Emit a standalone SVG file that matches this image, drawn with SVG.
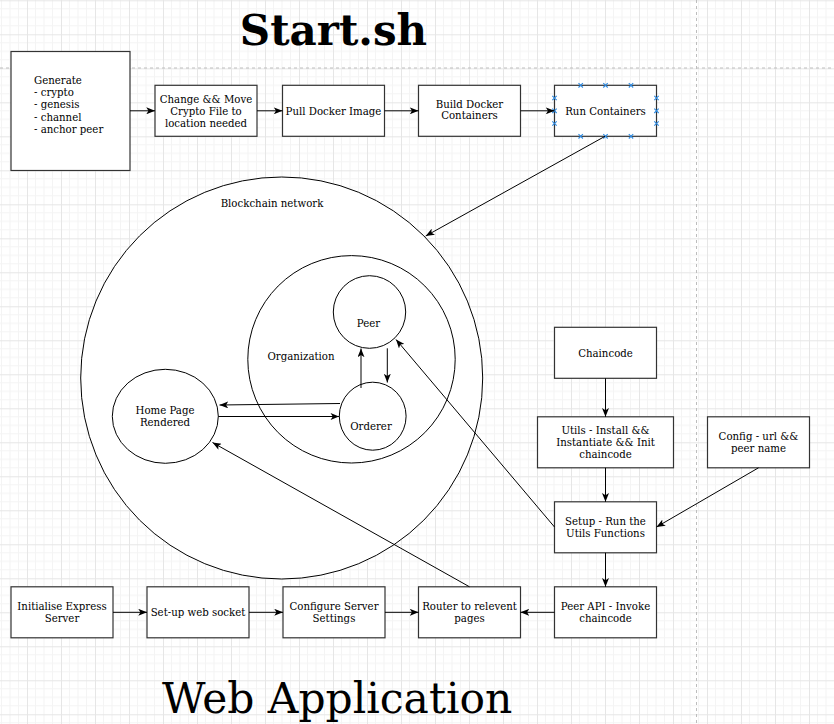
<svg xmlns="http://www.w3.org/2000/svg" xmlns:xlink="http://www.w3.org/1999/xlink" width="834" height="724" viewBox="0 0 834 724">
<style>
.box{fill:#fff;stroke:#333;stroke-width:1.2}
.circ{fill:#fff;stroke:#000;stroke-width:1}
.t{font-family:"DejaVu Serif","Liberation Serif",serif;font-size:10.2px;fill:#000;text-anchor:middle}
.tl{font-family:"DejaVu Serif","Liberation Serif",serif;font-size:10.2px;fill:#000}
.e{fill:none;stroke:#000;stroke-width:1;marker-end:url(#arr)}
.pt{fill:none;stroke:#2f8ae0;stroke-width:1.1}
.dash{stroke:#bdbdbd;stroke-width:1;stroke-dasharray:3 3}
.title{font-family:"DejaVu Serif","Liberation Serif",serif;fill:#000;text-anchor:middle}
</style>
<defs>
<pattern id="grid" patternUnits="userSpaceOnUse" x="27" y="0.3" width="34" height="34">
<rect width="34" height="34" fill="#fff"/>
<path d="M8.5,0V34M17,0V34M25.5,0V34M0,8.5H34M0,17H34M0,25.5H34" stroke="#f4f4f4" stroke-width="1"/>
<path d="M0.5,0V34M0,0.5H34" stroke="#e6e6e6" stroke-width="1"/>
</pattern>
<marker id="arr" viewBox="0 0 10 8" refX="10" refY="4" markerWidth="9" markerHeight="7" orient="auto" markerUnits="userSpaceOnUse">
<path d="M0,0 L10,4 L0,8 L2.5,4 z" fill="#000"/>
</marker>
<path id="xm" d="M-2.2,-2.2L2.2,2.2M-2.2,2.2L2.2,-2.2"/>
</defs>
<rect width="834" height="724" fill="url(#grid)"/>
<line class="dash" x1="0" y1="68" x2="834" y2="68"/>
<line class="dash" x1="696.5" y1="0" x2="696.5" y2="724"/>

<text class="title" x="333.5" y="44.5" font-weight="bold" font-size="42">Start.sh</text>
<text class="title" x="337.2" y="712.5" font-size="42.4">Web Application</text>

<g id="blockchain-network">
<circle class="circ" cx="281.7" cy="378" r="201"/>
<text class="t" x="272" y="207">Blockchain network</text>
</g>
<g id="organization">
<circle class="circ" cx="351.5" cy="359.3" r="103.7"/>
<text class="t" x="301" y="360">Organization</text>
</g>
<g id="peer">
<ellipse class="circ" cx="369.5" cy="312" rx="36.2" ry="36.3"/>
<text class="t" x="368.5" y="327">Peer</text>
</g>
<g id="orderer">
<ellipse class="circ" cx="372.7" cy="416.2" rx="33.4" ry="34"/>
<text class="t" x="371" y="430">Orderer</text>
</g>
<g id="home-page">
<ellipse class="circ" cx="165.3" cy="416.3" rx="53" ry="47"/>
<text class="t" x="165" y="413.5">Home Page</text>
<text class="t" x="165" y="426">Rendered</text>
</g>

<g id="generate">
<rect class="box" x="11" y="51.5" width="119" height="119"/>
<text class="tl" x="34" y="84">Generate</text>
<text class="tl" x="34" y="96.2">- crypto</text>
<text class="tl" x="34" y="108.4">- genesis</text>
<text class="tl" x="34" y="120.7">- channel</text>
<text class="tl" x="34" y="132.9">- anchor peer</text>
</g>
<g id="change-move">
<rect class="box" x="155" y="85.3" width="102" height="51"/>
<text class="t" x="206" y="103">Change &amp;&amp; Move</text>
<text class="t" x="206" y="115">Crypto File to</text>
<text class="t" x="206" y="127">location needed</text>
</g>
<g id="pull-docker">
<rect class="box" x="282.5" y="85.3" width="102" height="51"/>
<text class="t" x="333.5" y="114.5">Pull Docker Image</text>
</g>
<g id="build-docker">
<rect class="box" x="418.5" y="85.3" width="102" height="51"/>
<text class="t" x="469.5" y="107.5">Build Docker</text>
<text class="t" x="469.5" y="119">Containers</text>
</g>
<g id="run-containers">
<rect class="box" x="554.5" y="85.3" width="102" height="51"/>
<text class="t" x="605.5" y="114.5">Run Containers</text>
<g class="pt">
<use xlink:href="#xm" x="580.7" y="85.3"/><use xlink:href="#xm" x="605.5" y="85.3"/><use xlink:href="#xm" x="631" y="85.3"/>
<use xlink:href="#xm" x="580.7" y="136.3"/><use xlink:href="#xm" x="605.5" y="136.3"/><use xlink:href="#xm" x="631" y="136.3"/>
<use xlink:href="#xm" x="554.5" y="98"/><use xlink:href="#xm" x="554.5" y="110.8"/><use xlink:href="#xm" x="554.5" y="123.5"/>
<use xlink:href="#xm" x="656.5" y="98"/><use xlink:href="#xm" x="656.5" y="110.8"/><use xlink:href="#xm" x="656.5" y="123.5"/>
</g>
</g>
<g id="chaincode">
<rect class="box" x="554.5" y="327.3" width="102" height="51"/>
<text class="t" x="605.5" y="357">Chaincode</text>
</g>
<g id="utils">
<rect class="box" x="537.5" y="416.8" width="136" height="51"/>
<text class="t" x="605.5" y="433.5">Utils  - Install &amp;&amp;</text>
<text class="t" x="605.5" y="445.5">Instantiate &amp;&amp; Init</text>
<text class="t" x="605.5" y="457.5">chaincode</text>
</g>
<g id="config">
<rect class="box" x="707.5" y="416.8" width="102" height="51"/>
<text class="t" x="758.5" y="439.5">Config - url &amp;&amp;</text>
<text class="t" x="758.5" y="451.5">peer name</text>
</g>
<g id="setup">
<rect class="box" x="554.5" y="501.8" width="102" height="51"/>
<text class="t" x="605.5" y="524.5">Setup - Run the</text>
<text class="t" x="605.5" y="536.5">Utils Functions</text>
</g>
<g id="initialise-express">
<rect class="box" x="11" y="586.8" width="102" height="51"/>
<text class="t" x="62" y="609.5">Initialise Express</text>
<text class="t" x="62" y="621.5">Server</text>
</g>
<g id="web-socket">
<rect class="box" x="147" y="586.8" width="102" height="51"/>
<text class="t" x="198" y="615.5">Set-up web socket</text>
</g>
<g id="configure-server">
<rect class="box" x="283" y="586.8" width="102" height="51"/>
<text class="t" x="334" y="609.5">Configure Server</text>
<text class="t" x="334" y="621.5">Settings</text>
</g>
<g id="router">
<rect class="box" x="418.5" y="586.8" width="102" height="51"/>
<text class="t" x="469.5" y="609.5">Router to relevent</text>
<text class="t" x="469.5" y="621.5">pages</text>
</g>
<g id="peer-api">
<rect class="box" x="554.5" y="586.8" width="102" height="51"/>
<text class="t" x="605.5" y="609.5">Peer API - Invoke</text>
<text class="t" x="605.5" y="621.5">chaincode</text>
</g>

<g id="connectors">
<line class="e" x1="130" y1="110.8" x2="155" y2="110.8"/>
<line class="e" x1="257" y1="110.8" x2="282.5" y2="110.8"/>
<line class="e" x1="384.5" y1="110.8" x2="418.5" y2="110.8"/>
<line class="e" x1="520.5" y1="110.8" x2="554.5" y2="110.8"/>
<line class="e" x1="605" y1="136.3" x2="425.7" y2="236"/>
<line class="e" x1="361" y1="388" x2="361" y2="348.5"/>
<line class="e" x1="387.3" y1="348.3" x2="387.3" y2="382.5"/>
<line class="e" x1="340" y1="403.5" x2="219.5" y2="405"/>
<line class="e" x1="218.3" y1="416.5" x2="339.3" y2="416.5"/>
<line class="e" x1="554.5" y1="527" x2="396" y2="339.5"/>
<line class="e" x1="469.5" y1="586.8" x2="212.5" y2="442.5"/>
<line class="e" x1="605.5" y1="378.3" x2="605.5" y2="416.8"/>
<line class="e" x1="605.5" y1="467.8" x2="605.5" y2="501.8"/>
<line class="e" x1="758.5" y1="467.8" x2="656.5" y2="527"/>
<line class="e" x1="605.5" y1="552.8" x2="605.5" y2="586.8"/>
<line class="e" x1="554.5" y1="612.3" x2="520.5" y2="612.3"/>
<line class="e" x1="113" y1="612.3" x2="147" y2="612.3"/>
<line class="e" x1="249" y1="612.3" x2="283" y2="612.3"/>
<line class="e" x1="385" y1="612.3" x2="418.5" y2="612.3"/>
</g>
</svg>
